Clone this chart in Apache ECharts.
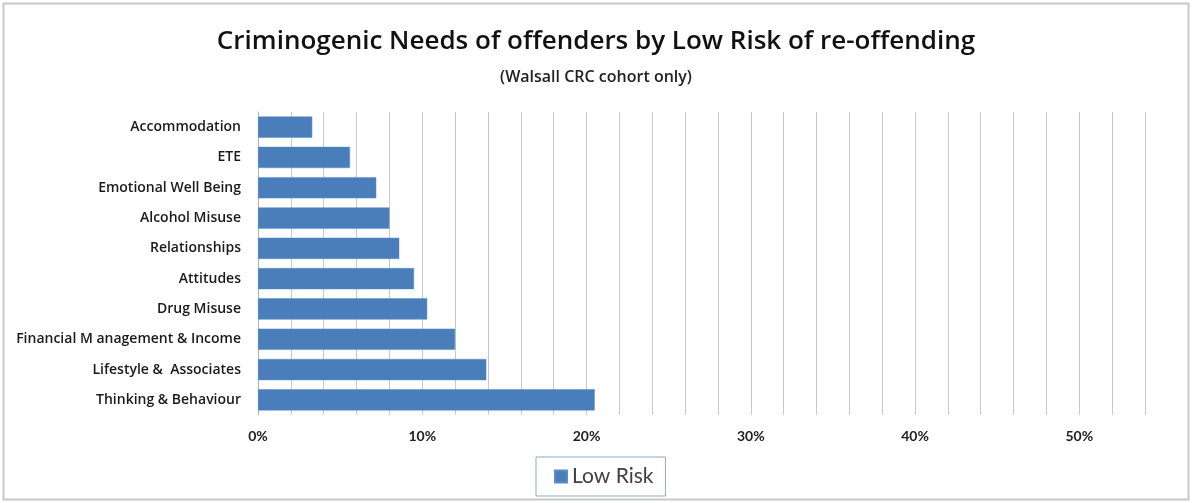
<!DOCTYPE html>
<html><head><meta charset="utf-8">
<script src="https://cdn.jsdelivr.net/npm/echarts@6/dist/echarts.min.js"></script>
<style>html,body{margin:0;padding:0;background:#fff}#c{width:1192px;height:503px}</style>
</head><body><div id="c"></div>
<script>
const categories = ["Accommodation","ETE","Emotional Well Being","Alcohol Misuse","Relationships","Attitudes","Drug Misuse","Financial M anagement & Income","Lifestyle &  Associates","Thinking & Behaviour"];
const lowRisk = [0.033, 0.056, 0.072, 0.080, 0.086, 0.095, 0.103, 0.120, 0.139, 0.205];
const titleText = "Criminogenic Needs of offenders by Low Risk of re-offending";
const subtitleText = "(Walsall CRC cohort only)";
const seriesName = "Low Risk";

const chart = echarts.init(document.getElementById('c'), null, {renderer:'canvas'});
chart.setOption({
  backgroundColor:'#fff',
  animation:false,
  title:{
    text:titleText, subtext:subtitleText, left:'center', top:24, itemGap:14,
    textStyle:{fontFamily:'Open Sans', fontWeight:600, fontSize:26, color:'#111'},
    subtextStyle:{fontFamily:'Open Sans', fontWeight:600, fontSize:16, color:'#222'}
  },
  graphic:[{type:'rect', shape:{x:3.5,y:3.5,width:1185,height:496}, style:{fill:'none', stroke:'#c8c8c8', lineWidth:2}, silent:true}],
  legend:{
    data:[seriesName], left:536, top:457, padding:[9,12,9,18],
    borderColor:'#8ea9c8', borderWidth:1, itemWidth:12, itemHeight:12, itemGap:6,
    textStyle:{fontFamily:'Lato', fontSize:21, color:'#404040'}, icon:'rect'
  },
  grid:{left:258, right:47, top:112, bottom:88, containLabel:false},
  xAxis:{
    type:'value', min:0, max:0.54, interval:0.02,
    axisLine:{show:false}, axisTick:{show:false},
    splitLine:{show:true, lineStyle:{color:'#c9c9c9', width:1}},
    axisLabel:{margin:14, fontFamily:'Lato', fontWeight:'bold', fontSize:14, color:'#222',
      formatter:v=>{const p=Math.round(v*100); return p%10===0 ? p+'%' : '';}}
  },
  yAxis:{
    type:'category', data:categories, inverse:true,
    axisLine:{show:true, lineStyle:{color:'#b0b0b0'}}, axisTick:{show:false},
    axisLabel:{margin:17, fontFamily:'Open Sans', fontWeight:600, fontSize:14, color:'#1a1a1a'}
  },
  series:[{
    name:seriesName, type:'bar', data:lowRisk, barCategoryGap:'30%',
    itemStyle:{color:'#4a7ebb', borderColor:'#5b8cc6', borderWidth:0.5}
  }]
});
</script></body></html>
